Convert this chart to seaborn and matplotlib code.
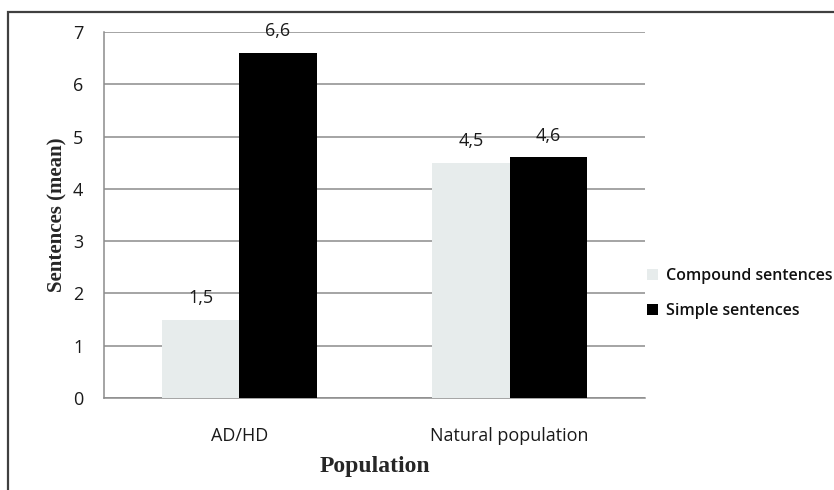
import matplotlib
matplotlib.use("Agg")
import matplotlib.pyplot as plt
import seaborn as sns
import pandas as pd
from matplotlib.patches import Rectangle

# Mean number of sentences per group
groups = ["AD/HD", "Natural population"]
series = ["Compound sentences", "Simple sentences"]
compound = [1.5, 4.5]
simple = [6.6, 4.6]
y_ticks = [0, 1, 2, 3, 4, 5, 6, 7]

df = pd.DataFrame({
    "Population": groups * 2,
    "Type": [series[0]] * len(groups) + [series[1]] * len(groups),
    "Mean": compound + simple,
})

sns.set_style("white")
plt.rcParams["font.family"] = ["Open Sans", "DejaVu Sans"]

fig = plt.figure(figsize=(8.34, 4.9), dpi=100)
ax = fig.add_axes([104 / 834, 92 / 490, 541 / 834, 366 / 490])

palette = {series[0]: "#e7ecec", series[1]: "#000000"}
sns.barplot(data=df, x="Population", y="Mean", hue="Type", order=groups,
            hue_order=series, palette=palette, width=0.573, saturation=1,
            edgecolor="none", linewidth=0, ax=ax, zorder=3)

# value labels with decimal comma
for container in ax.containers:
    for bar in container:
        h = bar.get_height()
        ax.annotate(f"{h:.1f}".replace(".", ","),
                    (bar.get_x() + bar.get_width() / 2, h),
                    xytext=(0, 9), textcoords="offset points",
                    ha="center", va="bottom", fontsize=13, color="#1a1a1a",
                    zorder=4)

ax.set_ylim(0, 7)
ax.set_xlim(-0.5, 1.5)
ax.set_yticks(y_ticks)
ax.set_yticklabels([str(t) for t in y_ticks])
ax.yaxis.grid(True, color="#8c8c8c", linewidth=1.1, zorder=0)
ax.xaxis.grid(False)

# category ticks sit on the group boundaries
ax.set_xticks([-0.5, 0.5, 1.5], minor=False)
ax.set_xticklabels([])
ax.set_xticks([0, 1], minor=True)
ax.set_xticklabels(groups, minor=True)
ax.tick_params(axis="x", which="major", direction="out", length=6,
               color="#8c8c8c", width=1)
ax.tick_params(axis="x", which="minor", length=0, pad=21, labelsize=13,
               labelcolor="#1a1a1a")
ax.tick_params(axis="y", direction="out", length=7, color="#8c8c8c",
               width=1, pad=8, labelsize=13, labelcolor="#1a1a1a")

for side in ["top", "right"]:
    ax.spines[side].set_visible(False)
for side in ["left", "bottom"]:
    ax.spines[side].set_color("#8c8c8c")
    ax.spines[side].set_linewidth(1.1)

ax.set_xlabel("Population", family=["Liberation Serif", "DejaVu Serif"],
              fontweight="bold", fontsize=17, labelpad=8)
ax.set_ylabel("Sentences (mean)", family=["Liberation Serif", "DejaVu Serif"],
              fontweight="bold", fontsize=15, labelpad=4)

leg = ax.legend(loc="center left", bbox_to_anchor=(1.004, 0.285),
                frameon=False, fontsize=11.5, handlelength=0.7,
                handleheight=0.7, handletextpad=0.45, labelspacing=1.2,
                borderaxespad=0, borderpad=0)
for t in leg.get_texts():
    t.set_color("#111111")
    t.set_fontweight("semibold")

# outer chart frame
fig.patches.append(Rectangle((8 / 834, -0.2), 1.2, 1.2 - 12 / 490,
                             transform=fig.transFigure, fill=False,
                             edgecolor="#404040", linewidth=1.6))

fig.savefig("out.png", dpi=100)
